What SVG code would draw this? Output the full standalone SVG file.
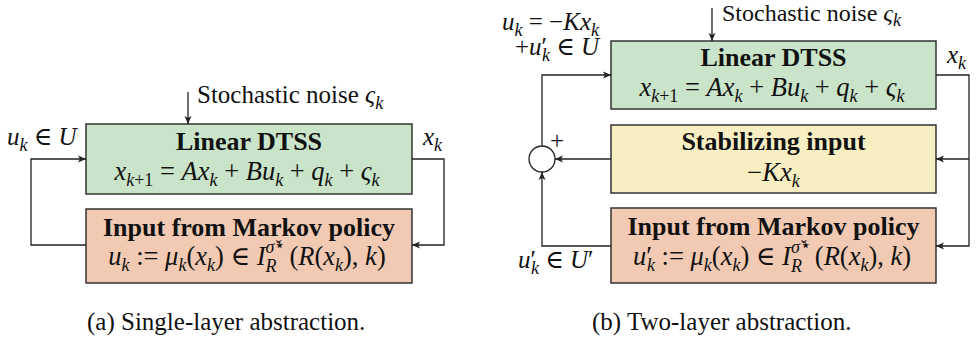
<svg xmlns="http://www.w3.org/2000/svg" width="978" height="340" viewBox="0 0 978 340" font-family="'Liberation Serif', 'DejaVu Serif', serif">
<style>
text{font-family:'Liberation Serif','DejaVu Serif',serif;font-size:25px;fill:#111}
.h{font-weight:bold;font-size:26px}
.eq{font-size:26.5px}
.i{font-style:italic}
.sb{font-size:18px}
.box{stroke:#333;stroke-width:1.5}
.g{fill:#c9e4c9}.y{fill:#f7efc2}.o{fill:#f2cab3}
.ln{fill:none;stroke:#222;stroke-width:1.3;marker-end:url(#ah)}
.cap{font-size:25px}
</style>
<defs>
<marker id="ah" markerUnits="userSpaceOnUse" markerWidth="10" markerHeight="8" refX="8" refY="4" orient="auto">
<path d="M0,0.5 L8,4 L0,7.5 L2,4 z" fill="#222"/>
</marker>
</defs>

<!-- (a) -->
<g id="a-dtss">
<rect class="box g" x="86" y="124" width="326" height="70"/>
<text class="h" x="249" y="150" text-anchor="middle">Linear DTSS</text>
<text class="eq" x="247" y="180" text-anchor="middle"><tspan class="i">x</tspan><tspan class="sb" dy="6"><tspan class="i">k</tspan>+1</tspan><tspan dy="-6"> = </tspan><tspan class="i">Ax</tspan><tspan class="sb i" dy="6">k</tspan><tspan dy="-6"> + </tspan><tspan class="i">Bu</tspan><tspan class="sb i" dy="6">k</tspan><tspan dy="-6"> + </tspan><tspan class="i">q</tspan><tspan class="sb i" dy="6">k</tspan><tspan dy="-6"> + </tspan><tspan class="i">ς</tspan><tspan class="sb i" dy="6">k</tspan></text>
</g>
<g id="a-policy">
<rect class="box o" x="86" y="209" width="326" height="74"/>
<text class="h" x="249" y="236" text-anchor="middle">Input from Markov policy</text>
<text class="eq" x="247" y="265" text-anchor="middle"><tspan class="i">u</tspan><tspan class="sb i" dy="6">k</tspan><tspan dy="-6"> := </tspan><tspan class="i">μ</tspan><tspan class="sb i" dy="6">k</tspan><tspan dy="-6">(</tspan><tspan class="i">x</tspan><tspan class="sb i" dy="6">k</tspan><tspan dy="-6">) ∈ </tspan><tspan class="i">I</tspan><tspan class="sb i" dy="7">R</tspan><tspan class="sb i" dx="-11" dy="-19">σ̌</tspan><tspan class="sb" dy="-2">⋆</tspan><tspan dy="14" dx="4">(</tspan><tspan class="i">R</tspan><tspan>(</tspan><tspan class="i">x</tspan><tspan class="sb i" dy="6">k</tspan><tspan dy="-6">), </tspan><tspan class="i">k</tspan><tspan>)</tspan></text>
</g>
<g id="a-labels">
<text x="197" y="103">Stochastic noise <tspan class="i">ς</tspan><tspan class="sb i" dy="6">k</tspan></text>
<text x="7" y="145"><tspan class="i">u</tspan><tspan class="sb i" dy="6">k</tspan><tspan dy="-6"> ∈ </tspan><tspan class="i">U</tspan></text>
<text x="423" y="145"><tspan class="i">x</tspan><tspan class="sb i" dy="6">k</tspan></text>
</g>
<g id="a-connectors">
<path class="ln" d="M188,92 V124"/>
<path class="ln" d="M86,245 H31 V159 H86"/>
<path class="ln" d="M412,159 H444 V245 H412"/>
</g>

<!-- (b) -->
<g id="b-dtss">
<rect class="box g" x="611" y="41" width="325" height="68"/>
<text class="h" x="773.5" y="66" text-anchor="middle">Linear DTSS</text>
<text class="eq" x="772" y="96" text-anchor="middle"><tspan class="i">x</tspan><tspan class="sb" dy="6"><tspan class="i">k</tspan>+1</tspan><tspan dy="-6"> = </tspan><tspan class="i">Ax</tspan><tspan class="sb i" dy="6">k</tspan><tspan dy="-6"> + </tspan><tspan class="i">Bu</tspan><tspan class="sb i" dy="6">k</tspan><tspan dy="-6"> + </tspan><tspan class="i">q</tspan><tspan class="sb i" dy="6">k</tspan><tspan dy="-6"> + </tspan><tspan class="i">ς</tspan><tspan class="sb i" dy="6">k</tspan></text>
</g>
<g id="b-stab">
<rect class="box y" x="611" y="125" width="325" height="68"/>
<text class="h" x="773.5" y="150" text-anchor="middle">Stabilizing input</text>
<text class="eq" x="773.5" y="181" text-anchor="middle">−<tspan class="i">Kx</tspan><tspan class="sb i" dy="6">k</tspan></text>
</g>
<g id="b-policy">
<rect class="box o" x="611" y="208" width="325" height="75"/>
<text class="h" x="773.5" y="235" text-anchor="middle">Input from Markov policy</text>
<text class="eq" x="772" y="265" text-anchor="middle"><tspan class="i">u</tspan><tspan>′</tspan><tspan class="sb i" dx="-5" dy="6">k</tspan><tspan dy="-6"> := </tspan><tspan class="i">μ</tspan><tspan class="sb i" dy="6">k</tspan><tspan dy="-6">(</tspan><tspan class="i">x</tspan><tspan class="sb i" dy="6">k</tspan><tspan dy="-6">) ∈ </tspan><tspan class="i">I</tspan><tspan class="sb i" dy="7">R</tspan><tspan class="sb i" dx="-11" dy="-19">σ̌</tspan><tspan class="sb" dy="-2">⋆</tspan><tspan dy="14" dx="4">(</tspan><tspan class="i">R</tspan><tspan>(</tspan><tspan class="i">x</tspan><tspan class="sb i" dy="6">k</tspan><tspan dy="-6">), </tspan><tspan class="i">k</tspan><tspan>)</tspan></text>
</g>
<g id="b-sum">
<circle cx="542" cy="159" r="13" fill="#fff" stroke="#222" stroke-width="1.3"/>
<text x="550" y="149" font-size="23">+</text>
</g>
<g id="b-labels">
<text x="722" y="21" font-size="24" style="font-size:24px">Stochastic noise <tspan class="i">ς</tspan><tspan class="sb i" dy="5">k</tspan></text>
<text x="502" y="30"><tspan class="i">u</tspan><tspan class="sb i" dy="6">k</tspan><tspan dy="-6"> = −</tspan><tspan class="i">Kx</tspan><tspan class="sb i" dy="6">k</tspan></text>
<text x="515" y="55">+<tspan class="i">u</tspan><tspan>′</tspan><tspan class="sb i" dx="-5" dy="6">k</tspan><tspan dy="-6"> ∈ </tspan><tspan class="i">U</tspan></text>
<text x="947" y="63"><tspan class="i">x</tspan><tspan class="sb i" dy="6">k</tspan></text>
<text x="518" y="268"><tspan class="i">u</tspan><tspan>′</tspan><tspan class="sb i" dx="-5" dy="6">k</tspan><tspan dy="-6"> ∈ </tspan><tspan class="i">U</tspan><tspan>′</tspan></text>
</g>
<g id="b-connectors">
<path class="ln" d="M712,8 V41"/>
<path class="ln" d="M936,75 H969 V246 H936"/>
<path class="ln" d="M969,159 H936"/>
<path class="ln" d="M611,159 H555"/>
<path class="ln" d="M611,246 H542 V172"/>
<path class="ln" d="M542,146 V75 H611"/>
</g>

<g id="captions">
<text class="cap" x="87" y="330">(a) Single-layer abstraction.</text>
<text class="cap" x="592" y="330">(b) Two-layer abstraction.</text>
</g>
</svg>
